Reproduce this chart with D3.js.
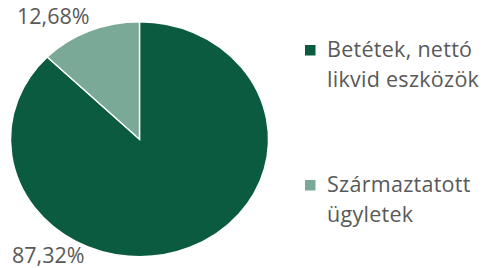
<!DOCTYPE html>
<html><head><meta charset="utf-8">
<script src="https://cdn.jsdelivr.net/npm/d3@7"></script>
<style>html,body{margin:0;padding:0;background:#fff;}</style>
</head><body>
<script>
const categories = ["Betétek, nettó likvid eszközök", "Származtatott ügyletek"];
const legendLines = [["Betétek, nettó", "likvid eszközök"], ["Származtatott", "ügyletek"]];
const values = [87.32, 12.68];
const labels = ["87,32%", "12,68%"];
const colors = ["#0b5b40", "#7ba998"];

const W = 493, H = 268;
const svg = d3.select("body").append("svg").attr("width", W).attr("height", H);
const cx = 139.5, cy = 139.2, ry = 117.5, rx = 129;

const pie = d3.pie().sort(null).value(d => d);
const arcs = pie(values);
const arc = d3.arc().innerRadius(0).outerRadius(ry);

const g = svg.append("g").attr("transform", `translate(${cx},${cy}) scale(${rx/ry},1)`);
g.selectAll("path").data(arcs).enter().append("path")
  .attr("d", arc)
  .attr("fill", (d, i) => colors[i])
  .attr("stroke", "#fff")
  .attr("stroke-width", 1.4)
  .attr("vector-effect", "non-scaling-stroke");

const font = "'Open Sans', sans-serif";
// data labels
const labelPos = [[12, 262.5], [17, 24.3]];
svg.selectAll("text.lbl").data(labels).enter().append("text")
  .attr("class", "lbl")
  .attr("x", (d, i) => labelPos[i][0])
  .attr("y", (d, i) => labelPos[i][1])
  .attr("font-family", font)
  .attr("font-size", 21.5)
  .attr("fill", "#595959")
  .text(d => d);

// legend
const legY = [45, 180];
const lg = svg.selectAll("g.leg").data(categories).enter().append("g").attr("class", "leg");
lg.append("rect")
  .attr("x", 305).attr("y", (d, i) => legY[i])
  .attr("width", 10.5).attr("height", 10.5)
  .attr("fill", (d, i) => colors[i]);
lg.each(function(d, i) {
  const t = d3.select(this).append("text")
    .attr("font-family", font).attr("font-size", 21.5)
    .attr("letter-spacing", 0.28).attr("fill", "#595959");
  legendLines[i].forEach((line, j) => {
    t.append("tspan").attr("x", 327).attr("y", legY[i] + 12 + j * 29.5).text(line);
  });
});
</script>
</body></html>
